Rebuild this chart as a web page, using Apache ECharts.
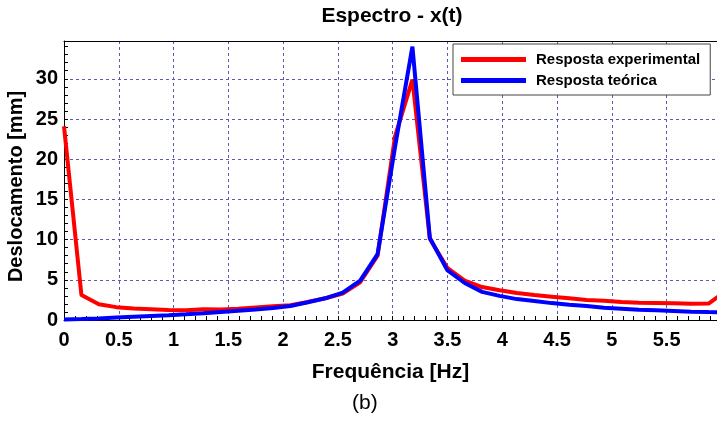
<!DOCTYPE html>
<html>
<head>
<meta charset="utf-8">
<script src="https://cdn.jsdelivr.net/npm/echarts@6/dist/echarts.min.js"></script>
<style>html,body{margin:0;padding:0;background:#fff;}#c{width:717px;height:421px;}</style>
</head>
<body>
<div id="c"></div>
<script>
var freqs = [0, 0.159, 0.318, 0.477, 0.636, 0.795, 0.954, 1.113, 1.272, 1.431, 1.59, 1.749, 1.908, 2.067, 2.226, 2.385, 2.544, 2.703, 2.862, 3.021, 3.18, 3.339, 3.498, 3.657, 3.816, 3.975, 4.134, 4.293, 4.452, 4.611, 4.77, 4.929, 5.088, 5.247, 5.406, 5.565, 5.724, 5.883, 6.042];
var experimental = [24.1, 3.1, 1.95, 1.6, 1.42, 1.35, 1.25, 1.22, 1.35, 1.3, 1.4, 1.55, 1.7, 1.85, 2.25, 2.7, 3.3, 4.7, 8.0, 22.8, 29.9, 10.1, 6.5, 4.9, 4.1, 3.7, 3.35, 3.1, 2.9, 2.7, 2.5, 2.4, 2.25, 2.16, 2.12, 2.08, 2.03, 2.05, 3.6];
var theoretical = [0.05, 0.12, 0.2, 0.3, 0.4, 0.5, 0.6, 0.72, 0.85, 1.0, 1.15, 1.3, 1.5, 1.75, 2.2, 2.7, 3.4, 4.9, 8.2, 21.5, 34.0, 10.2, 6.2, 4.6, 3.5, 3.0, 2.6, 2.35, 2.1, 1.9, 1.75, 1.53, 1.41, 1.28, 1.2, 1.12, 1.04, 0.98, 0.93];
var seriesNames = ['Resposta experimental', 'Resposta teórica'];
var titleText = 'Espectro - x(t)';
var xName = 'Frequência [Hz]';
var yName = 'Deslocamento [mm]';
var caption = '(b)';

function pairs(ys) { return freqs.map(function (f, i) { return [f, ys[i]]; }); }

var FONT = 'Liberation Sans, Arial, sans-serif';
var gridColor = '#5a5ab4';
var chart = echarts.init(document.getElementById('c'), null, { renderer: 'canvas' });
chart.setOption({
  animation: false,
  backgroundColor: '#fff',
  title: {
    text: titleText, left: 392, top: 6, textAlign: 'center', padding: 0,
    textStyle: { fontFamily: FONT, fontSize: 21, fontWeight: 'bold', color: '#000' }
  },
  legend: {
    orient: 'vertical', left: 453, top: 44, padding: [7, 10, 6, 8],
    itemWidth: 65, itemHeight: 5, itemGap: 4, icon: 'rect',
    borderColor: '#444', borderWidth: 1, backgroundColor: '#fff',
    textStyle: { fontFamily: FONT, fontSize: 15, fontWeight: 'bold', color: '#000', lineHeight: 17, padding: [0, 0, 0, 5] },
    data: seriesNames
  },
  grid: { left: 64, right: 0, top: 41, bottom: 101, containLabel: false, outerBoundsMode: 'none' },
  xAxis: [{
    type: 'value', min: 0, max: 5.96, interval: 0.5,
    name: xName, nameLocation: 'middle', nameGap: 42, nameMoveOverlap: false,
    nameTextStyle: { fontFamily: FONT, fontSize: 21, fontWeight: 'bold', color: '#000' },
    axisLine: { show: true, lineStyle: { color: '#000', width: 1 } },
    axisTick: { show: true, inside: true, length: 4, lineStyle: { color: '#000' } },
    minorTick: { show: true, splitNumber: 5, length: 4, lineStyle: { color: '#000' } },
    axisLabel: {
      margin: 10, showMaxLabel: false, fontFamily: FONT, fontSize: 20, fontWeight: 'bold', color: '#000',
      formatter: function (v) { return Math.abs(v * 2 - Math.round(v * 2)) < 1e-6 ? String(v) : ''; }
    },
    splitLine: { show: true, lineStyle: { color: gridColor, type: [3, 3], width: 1 } }
  }, {
    type: 'value', position: 'top', min: 0, max: 5.96,
    axisLine: { show: true, onZero: false, lineStyle: { color: '#000', width: 1 } },
    axisTick: { show: false }, axisLabel: { show: false }, splitLine: { show: false }
  }],
  yAxis: {
    type: 'value', min: 0, max: 34.7, interval: 5,
    name: yName, nameLocation: 'middle', nameGap: 38, nameMoveOverlap: false,
    nameTextStyle: { fontFamily: FONT, fontSize: 20, fontWeight: 'bold', color: '#000', padding: [0, 12, 0, 0] },
    axisLine: { show: true, lineStyle: { color: '#000', width: 1 } },
    axisTick: { show: true, inside: true, length: 4, lineStyle: { color: '#000' } },
    minorTick: { show: true, splitNumber: 5, length: 4, lineStyle: { color: '#000' } },
    axisLabel: { margin: 6, showMaxLabel: false, fontFamily: FONT, fontSize: 20, fontWeight: 'bold', color: '#000' },
    splitLine: { show: true, lineStyle: { color: gridColor, type: [3, 3], width: 1 } }
  },
  graphic: [{
    type: 'text', left: 352, top: 393,
    style: { text: caption, fontFamily: FONT, fontSize: 21, fill: '#000' }
  }],
  series: [{
    name: seriesNames[0], type: 'line', data: pairs(experimental), showSymbol: false, symbol: 'none',
    lineStyle: { color: '#ff0000', width: 4 }, itemStyle: { color: '#ff0000' }, clip: true
  }, {
    name: seriesNames[1], type: 'line', data: pairs(theoretical), showSymbol: false, symbol: 'none',
    lineStyle: { color: '#0000ff', width: 4 }, itemStyle: { color: '#0000ff' }, clip: true
  }]
});
</script>
</body>
</html>
